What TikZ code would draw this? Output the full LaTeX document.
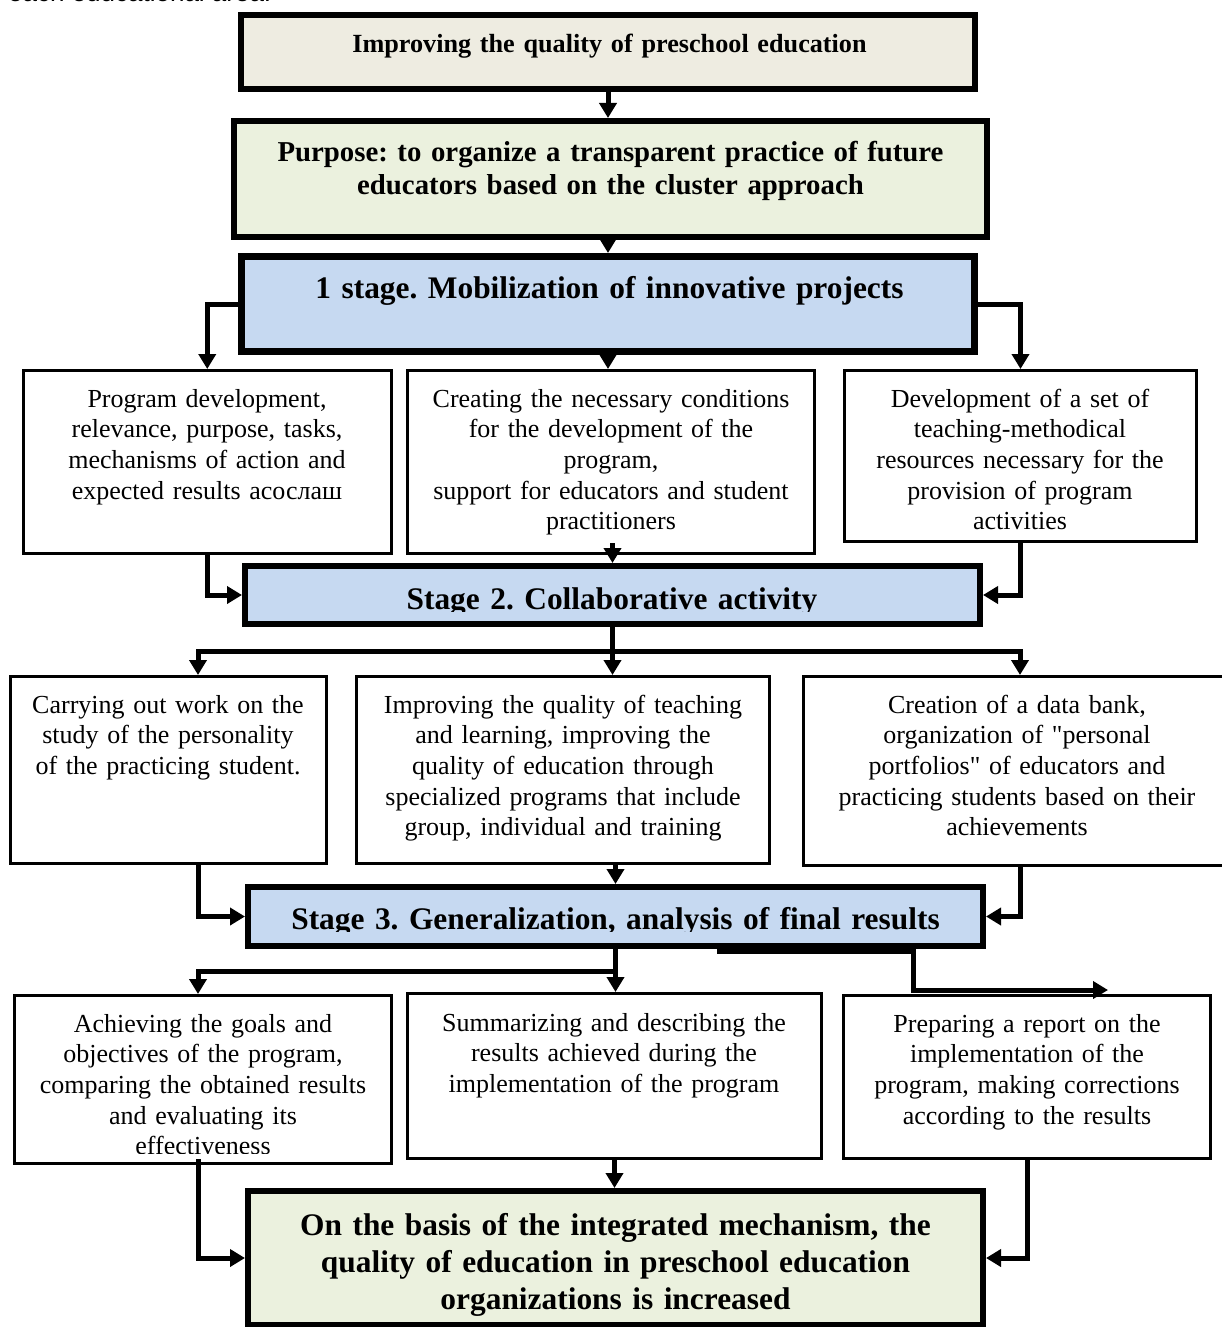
\documentclass[tikz,border=0pt]{standalone}
\usepackage{fontspec}
\setmainfont{Liberation Serif}
\newfontfamily\sansf{Liberation Sans}
\newfontfamily\qfont{Liberation Serif}
\usetikzlibrary{arrows.meta,calc}
\definecolor{beigebg}{HTML}{EEECE1}
\definecolor{greenbg}{HTML}{EBF1DE}
\definecolor{bluebg}{HTML}{C6D9F1}
\frenchspacing
\newcommand{\sq}{{\qfont"}}
\begin{document}
\begin{tikzpicture}[x=1pt,y=-1pt,
  thickbox/.style={draw=black, line width=6pt, outer sep=3pt, rectangle, inner sep=0pt, anchor=north west},
  thinbox/.style={draw=black, line width=3pt, outer sep=1.5pt, fill=white, rectangle, inner sep=0pt, anchor=north west},
  bodytext/.style={anchor=base, inner sep=0pt, align=center, text width=400pt, font=\fontsize{26.0}{30.7}\selectfont},
  headtext/.style={anchor=base, inner sep=0pt, align=center, text width=720pt, font=\bfseries\fontsize{31.4}{37}\selectfont},
  conn/.style={line width=5pt, -{Triangle[length=15pt,width=17pt]}}]
\useasboundingbox (0,0) rectangle (1222,1327);

% cropped caption at the very top
\node[anchor=base west, inner sep=0pt, font=\sansf\fontsize{26}{30}\selectfont] (cap) at (8,2) {each educational area.};

% main boxes
\node[thickbox, fill=beigebg, minimum width=734, minimum height=74] (top) at (238,12) {};
\node[thickbox, fill=greenbg, minimum width=753, minimum height=116] (purpose) at (231,118) {};
\node[thickbox, line width=7pt, outer sep=3.5pt, fill=bluebg, minimum width=733, minimum height=95] (s1) at (238,253) {};
\node[thinbox, minimum width=368.5, minimum height=183] (A) at (21.5,369) {};
\node[thinbox, minimum width=407, minimum height=183] (B) at (406,369) {};
\node[thinbox, minimum width=352, minimum height=171] (C) at (843,369) {};
\node[thickbox, fill=bluebg, minimum width=735, minimum height=58] (s2) at (242,563) {};
\node[thinbox, minimum width=316, minimum height=187] (D) at (9,675) {};
\node[thinbox, minimum width=413, minimum height=187] (E) at (355,675) {};
\node[thinbox, minimum width=435, minimum height=189] (F) at (802,675) {};
\node[thickbox, fill=bluebg, minimum width=735, minimum height=59] (s3) at (245,884) {};
\node[thinbox, minimum width=377, minimum height=168] (G) at (13,994) {};
\node[thinbox, minimum width=414, minimum height=165] (H) at (406,992) {};
\node[thinbox, minimum width=367, minimum height=163] (I) at (842,994) {};
\node[thickbox, fill=greenbg, minimum width=735, minimum height=134] (final) at (245,1188) {};

% heading texts
\node[headtext, font=\bfseries\fontsize{26.2}{30}\selectfont] (topt) at (609.5,53) {Improving the quality of preschool education};
\node[headtext, font=\bfseries\fontsize{28.8}{33}\selectfont] (purt) at (610.5,161) {Purpose: to organize a transparent practice of future\\ educators based on the cluster approach};
\node[headtext] (s1t) at (609.5,298) {1 stage. Mobilization of innovative projects};
\begin{scope}
\clip (245,566) rectangle (979,611);
\node[headtext] (s2t) at (612,609) {Stage 2. Collaborative activity};
\end{scope}
\begin{scope}
\clip (248,887) rectangle (983,931);
\node[headtext] (s3t) at (615.5,929) {Stage 3. Generalization, analysis of final results};
\end{scope}
\node[headtext] (fint) at (615.5,1235) {On the basis of the integrated mechanism, the\\ quality of education in preschool education\\ organizations is increased};

% body texts
\node[bodytext] (At) at (207,407) {Program development,\\ relevance, purpose, tasks,\\ mechanisms of action and\\ expected results асослаш};
\node[bodytext] (Bt) at (611,407) {Creating the necessary conditions\\ for the development of the\\ program,\\ support for educators and student\\ practitioners};
\node[bodytext] (Ct) at (1020,407) {Development of a set of\\ teaching-methodical\\ resources necessary for the\\ provision of program\\ activities};
\node[bodytext] (Dt) at (168,713) {Carrying out work on the\\ study of the personality\\ of the practicing student.};
\node[bodytext] (Et) at (563,713) {Improving the quality of teaching\\ and learning, improving the\\ quality of education through\\ specialized programs that include\\ group, individual and training};
\node[bodytext] (Ft) at (1017,713) {Creation of a data bank,\\ organization of \sq personal\\ portfolios\sq{} of educators and\\ practicing students based on their\\ achievements};
\begin{scope}
\clip (15,996) rectangle (391,1153);
\node[bodytext] (Gt) at (203,1032) {Achieving the goals and\\ objectives of the program,\\ comparing the obtained results\\ and evaluating its\\ effectiveness};
\end{scope}
\node[bodytext] (Ht) at (614,1031) {Summarizing and describing the\\ results achieved during the\\ implementation of the program};
\node[bodytext] (It) at (1027,1032) {Preparing a report on the\\ implementation of the\\ program, making corrections\\ according to the results};

% helper coordinates
\coordinate (dl) at (198,651);
\coordinate (dr) at (1020,651);
\coordinate (j2) at (s2.south |- 0,651);
\coordinate (j3) at (s3.south |- 0,971);
\coordinate (bar) at (913,949);
\coordinate (rep) at (1108,990);

% connectors
\draw[conn] (top.south) -- (top.south |- purpose.north);
\draw[conn] (purpose.south -| top.south) -- (top.south |- s1.north);
\draw[conn] (s1.west) -| (A.north);
\draw[conn] (s1.east) -| (C.north);
\draw[conn] (s1.south) -- (s1.south |- B.north);
\draw[conn] (A.south) |- (s2.west);
\draw[conn] ([yshift=12pt]s2.north |- B.south) -- (s2.north);
\draw[conn] (C.south) |- (s2.east);
\draw[conn] (s2.south) -- (s2.south |- E.north);
\draw[conn] (j2) -| (dl |- D.north);
\draw[conn] (j2) -| (dr |- F.north);
\draw[conn] (dl |- D.south) |- (s3.west);
\draw[conn] (s3.north |- E.south) -- (s3.north);
\draw[conn] (dr |- F.south) |- (s3.east);
\draw[conn] (s3.south) -- (s3.south |- H.north);
\draw[conn] (j3) -| (dl |- G.north);
\fill (717,943) rectangle (915,954);
\draw[conn] (bar) |- (rep);
\draw[conn] ([yshift=6pt]dl |- G.south) |- (final.west);
\draw[conn] (H.south) -- (H.south |- final.north);
\draw[conn] (I.south) |- (final.east);
\end{tikzpicture}
\end{document}
